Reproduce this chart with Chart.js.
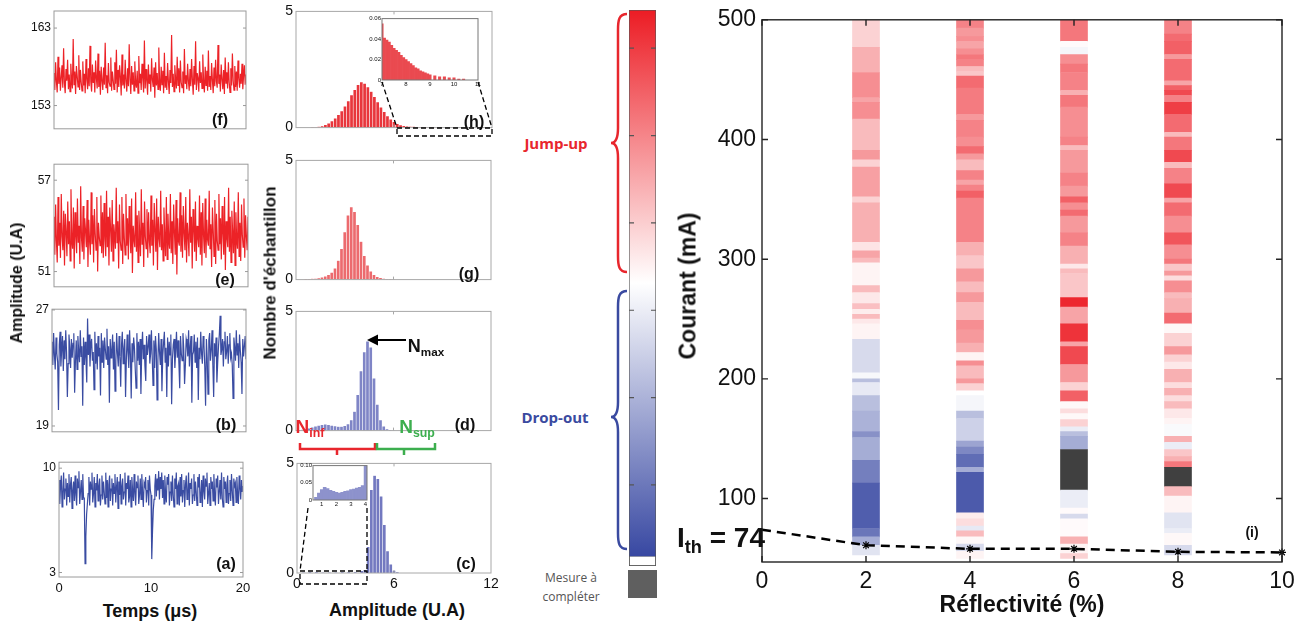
<!DOCTYPE html>
<html>
<head>
<meta charset="utf-8">
<script src="https://cdn.jsdelivr.net/npm/chart.js@4.4.1/dist/chart.umd.min.js"></script>
<style>
body { margin: 0; background: #fff; }
#fig { position: relative; width: 1309px; height: 622px; overflow: hidden; font-family: "Liberation Sans", Arial, sans-serif; }
.panel { position: absolute; }
.txt { position: absolute; transform: translate(-50%, -50%); white-space: nowrap; font-weight: bold; color: #111; line-height: 1; }
.rot { transform: translate(-50%, -50%) rotate(-90deg); }
sub { font-size: 0.65em; vertical-align: -0.35em; }
#overlay { position: absolute; left: 0; top: 0; }
</style>
</head>
<body>
<div id="fig"></div>
<script>
// ---- time traces (U.A), one sample every 1/12 us over 0..20 us ----
const sampleStep = 20 / 240;
const traceF = [157.2,155.0,158.6,156.1,154.7,159.3,155.8,157.9,154.9,156.6,158.2,155.3,160.4,155.9,154.6,157.7,156.2,158.9,155.1,157.0,
  154.8,158.4,156.3,155.2,161.6,155.7,157.4,154.5,158.1,156.8,155.4,159.5,155.0,157.6,156.0,154.9,158.7,155.6,157.1,154.6,
  159.0,156.4,155.1,157.8,155.5,160.7,156.1,154.8,158.3,155.9,157.3,154.7,158.8,156.5,155.2,159.7,155.4,157.5,154.4,158.0,
  156.2,155.0,157.9,155.7,161.1,155.3,156.9,154.6,158.5,156.0,155.5,159.2,154.9,157.4,156.3,155.1,158.6,155.8,160.2,154.7,
  157.6,155.4,158.2,156.7,154.3,159.6,155.6,157.0,155.2,158.9,156.1,154.8,157.8,155.5,160.9,156.4,154.5,158.1,155.7,157.3,
  154.9,158.7,156.0,155.3,157.5,154.6,159.4,155.9,157.1,155.0,158.4,156.6,154.7,161.4,155.2,157.7,156.2,154.4,158.3,155.8,
  157.0,154.8,159.1,156.3,155.4,157.9,154.0,158.6,155.6,157.2,155.1,160.5,156.0,154.9,158.0,155.7,157.5,154.6,159.8,155.3,
  156.8,155.0,158.5,156.1,154.5,157.6,155.9,162.1,155.4,157.1,154.8,158.2,156.4,155.2,159.3,155.6,157.8,154.7,158.8,156.0,
  155.3,157.4,154.6,160.3,155.8,156.9,155.1,158.4,156.2,154.9,157.7,155.5,159.0,156.3,154.4,158.1,155.7,161.3,155.0,157.2,
  156.5,154.8,158.7,155.9,157.3,155.2,159.6,156.0,154.7,158.0,155.6,157.5,154.9,160.1,155.4,156.8,155.0,158.5,156.3,154.6,
  157.9,155.5,158.9,156.1,155.3,160.8,155.8,157.0,154.8,158.3,156.4,155.1,157.6,154.5,159.2,155.9,157.3,155.2,158.6,156.0,
  154.7,157.8,155.6,159.7,156.2,155.0,158.1,155.4,157.4,154.9,158.8,156.5,155.3,157.1,155.8,158.4,155.1,156.9,158.2,155.7,157.0];
const traceE = [54.6,52.1,55.4,53.0,51.6,55.9,52.7,54.2,51.9,56.1,53.3,52.4,55.0,51.4,54.8,53.6,52.0,55.6,52.8,54.3,
  51.7,56.4,53.1,52.5,55.2,51.2,54.9,53.4,52.2,55.8,52.9,54.0,51.5,56.6,53.2,52.3,55.3,51.8,54.5,53.7,
  52.6,55.7,51.3,54.4,53.0,52.1,56.2,52.8,54.7,51.6,55.1,53.5,52.4,55.9,51.0,54.2,53.3,52.7,56.0,52.2,
  54.9,51.9,55.5,53.1,52.0,56.3,52.6,54.6,51.4,55.2,53.8,52.3,55.7,51.7,54.1,53.4,52.5,56.5,52.9,54.3,
  51.2,55.4,53.0,52.4,55.9,51.5,54.8,53.2,52.1,56.1,52.7,54.5,51.8,55.3,53.6,52.2,55.8,50.9,54.0,53.1,
  52.6,56.2,52.3,54.7,51.6,55.0,53.5,52.0,56.4,52.8,54.2,51.3,55.6,53.3,52.5,55.1,51.9,54.9,53.0,52.2,
  56.0,52.7,54.4,51.4,55.5,53.7,52.3,55.8,51.1,54.6,53.2,52.6,56.3,52.4,54.1,51.7,55.2,53.4,52.0,55.9,
  51.8,54.8,53.1,52.5,56.1,52.2,54.3,51.5,55.4,53.6,52.1,55.7,50.8,54.5,53.0,52.7,56.2,52.3,54.7,51.9,
  55.3,53.5,52.4,55.9,51.6,54.2,53.3,52.0,56.4,52.9,54.6,51.2,55.1,53.8,52.3,55.6,51.7,54.0,53.2,52.6,
  56.0,52.1,54.9,51.4,55.5,53.4,52.2,55.8,51.9,54.4,53.1,52.7,56.3,52.5,54.1,51.3,55.2,53.7,52.0,55.7,
  51.5,54.8,53.0,52.4,56.1,52.8,54.5,51.8,55.3,53.5,52.1,55.9,51.1,54.3,53.2,52.6,56.5,52.3,54.6,51.6,
  55.0,53.6,52.2,55.6,51.4,54.9,53.1,52.5,56.2,52.0,54.2,51.7,55.4,53.4,52.6,55.8,51.9,54.7,53.3,52.4,54.6];
const traceB = [24.8,23.2,25.4,23.9,22.9,25.1,24.0,23.4,20.1,24.6,25.5,23.1,24.3,25.2,22.8,24.9,23.6,25.6,24.1,21.0,
  23.3,25.3,24.4,23.0,25.0,23.7,24.7,25.4,21.3,23.5,24.9,22.9,25.2,24.2,23.4,25.6,23.8,24.5,20.4,25.1,
  23.2,24.8,23.6,22.0,26.4,23.9,25.3,23.1,24.6,25.0,23.5,24.1,21.5,25.5,23.3,24.7,22.9,25.2,23.8,24.4,
  21.1,25.4,23.4,24.9,23.0,25.1,24.3,23.6,25.7,23.2,24.5,20.6,25.0,23.7,24.2,25.3,22.9,24.8,21.4,23.5,
  25.4,24.0,23.1,25.2,23.8,21.7,24.6,25.5,23.3,24.3,25.0,21.0,23.6,25.3,24.1,23.0,25.6,23.9,20.9,24.7,
  23.4,25.1,24.4,22.9,21.6,25.4,23.5,24.8,23.2,25.0,21.2,24.2,25.5,23.6,24.6,23.1,22.1,25.2,23.9,24.5,
  25.3,23.3,24.0,25.6,23.7,21.8,24.9,23.0,25.2,24.3,20.8,23.5,25.4,24.1,23.2,25.0,21.4,23.8,24.7,25.5,
  23.4,24.4,21.0,25.1,23.1,24.8,23.9,25.3,20.5,23.6,24.6,25.0,23.0,24.2,25.5,23.7,24.9,23.3,21.6,25.2,
  24.0,23.5,25.4,24.3,21.9,23.2,25.0,24.7,23.8,25.6,23.1,24.5,25.2,20.6,23.9,24.1,25.3,23.4,24.8,23.0,
  25.1,20.8,24.4,23.6,25.5,24.0,23.3,25.2,24.6,23.1,20.4,25.0,23.7,21.2,24.9,25.4,23.5,24.2,25.6,23.2,
  21.0,24.7,23.8,25.1,22.0,23.4,24.5,25.3,26.6,23.9,24.3,25.0,23.1,24.8,25.5,23.6,24.1,25.2,23.3,24.6,
  25.4,23.7,24.0,23.2,20.9,25.1,24.4,23.5,25.6,23.9,24.7,23.0,25.3,24.2,23.4,21.2,25.0,23.8,24.5,25.2,23.6];
const traceA = [9.2,7.6,8.8,9.5,7.4,8.3,9.7,7.9,8.6,9.3,7.5,9.0,8.1,9.6,7.7,8.9,9.4,7.3,8.5,9.1,
  7.8,9.5,8.2,7.5,9.3,8.7,9.8,7.6,8.4,9.2,7.9,9.6,8.0,8.0,3.6,5.4,6.9,7.6,8.3,9.4,
  7.5,9.1,8.6,9.7,7.7,8.3,9.4,7.4,9.0,8.5,9.6,7.8,8.8,9.3,7.5,8.2,9.5,7.9,9.1,8.4,
  7.6,9.7,8.0,9.2,7.4,8.9,9.5,7.8,8.6,9.3,7.5,9.0,8.3,9.6,7.7,8.7,9.4,7.3,9.1,8.2,
  9.6,7.6,8.8,9.3,7.9,8.4,9.7,7.5,9.0,8.6,9.5,7.7,8.1,9.2,7.4,9.4,8.5,7.8,9.6,8.3,
  7.5,9.1,8.7,9.5,7.6,8.2,9.3,7.9,9.6,8.4,7.4,9.0,8.8,9.4,7.7,8.5,9.2,7.5,9.5,8.6,
  8.2,3.9,5.8,7.2,7.9,8.8,9.6,8.1,9.3,8.5,9.8,7.9,9.4,8.6,9.7,8.0,9.2,7.6,9.5,8.3,
  7.7,9.4,8.9,9.6,7.5,8.4,9.1,7.8,9.5,8.2,7.4,9.3,8.6,9.7,7.6,8.8,9.0,7.5,9.4,8.1,
  9.6,7.7,8.5,9.2,7.4,8.9,9.5,7.9,8.3,9.7,7.5,9.0,8.6,9.3,7.6,8.2,9.6,7.8,9.1,8.4,
  7.5,9.4,8.7,9.6,7.7,8.1,9.2,7.4,9.5,8.5,7.9,9.3,8.8,9.7,7.6,8.3,9.0,7.5,9.4,8.6,
  9.1,7.8,9.6,8.2,7.5,9.3,8.7,9.5,7.6,8.4,9.2,7.9,9.7,8.0,7.4,9.4,8.6,9.1,7.7,8.9,
  9.5,7.6,8.3,9.2,7.8,9.6,8.5,7.5,9.3,8.8,9.0,7.7,9.4,8.2,7.6,9.5,8.7,7.9,9.2,8.4,8.8];

// ---- histograms (bin centre, count) ----
const hBins = [1.0,1.2,1.4,1.6,1.8,2.0,2.2,2.4,2.6,2.8,3.0,3.2,3.4,3.6,3.8,4.0,4.2,4.4,4.6,4.8,5.0,5.2,5.4,5.6,5.8,6.0,6.2,6.4,6.6,6.8,7.0,7.2,7.4,7.6,7.8,8.0,8.4,8.8];
const hCounts = [0.01,0.02,0.04,0.07,0.12,0.19,0.28,0.4,0.55,0.72,0.92,1.15,1.4,1.63,1.84,1.96,1.9,1.75,1.55,1.33,1.1,0.88,0.68,0.5,0.36,0.25,0.17,0.11,0.08,0.06,0.05,0.04,0.03,0.03,0.02,0.02,0.01,0.01];
const gBins = [0.6,0.8,1.0,1.2,1.4,1.6,1.8,2.0,2.2,2.4,2.6,2.8,3.0,3.2,3.4,3.6,3.8,4.0,4.2,4.4,4.6,4.8,5.0,5.2,5.4,5.6,5.8,6.0];
const gCounts = [0.02,0.03,0.04,0.05,0.07,0.1,0.14,0.2,0.3,0.48,0.8,1.3,2.0,2.7,3.05,2.85,2.3,1.6,1.0,0.6,0.35,0.2,0.12,0.08,0.05,0.03,0.02,0.01];
const dBins = [0.2,0.4,0.6,0.8,1.0,1.2,1.4,1.6,1.8,2.0,2.2,2.4,2.6,2.8,3.0,3.2,3.4,3.6,3.8,4.0,4.2,4.4,4.6,4.8,5.0,5.2,5.4,5.6,5.8,6.0];
const dCounts = [0.02,0.04,0.07,0.1,0.14,0.18,0.22,0.25,0.27,0.25,0.22,0.19,0.17,0.17,0.2,0.28,0.45,0.8,1.5,2.5,3.3,3.75,3.5,2.2,1.1,0.45,0.18,0.07,0.03,0.01];
const cBins = [0.4,0.8,1.2,1.6,2.0,2.4,2.8,3.2,3.6,4.0,4.2,4.4,4.6,4.8,5.0,5.2,5.4,5.6,5.8,6.0,6.2];
const cCounts = [0.02,0.03,0.03,0.02,0.02,0.02,0.03,0.03,0.04,0.1,0.15,1.2,3.8,4.45,4.3,3.5,2.2,1.0,0.4,0.12,0.03];
const hInsetBins = [7.0,7.1,7.2,7.3,7.4,7.5,7.6,7.7,7.8,7.9,8.0,8.1,8.2,8.3,8.4,8.5,8.6,8.7,8.8,8.9,9.0,9.2,9.4,9.6,9.8,10.0,10.2,10.4];
const hInsetCounts = [0.055,0.041,0.039,0.037,0.034,0.031,0.029,0.027,0.024,0.022,0.02,0.018,0.016,0.014,0.012,0.011,0.009,0.008,0.007,0.006,0.005,0.004,0.003,0.003,0.002,0.002,0.001,0.001];
const cInsetBins = [0.6,0.8,1.0,1.2,1.4,1.6,1.8,2.0,2.2,2.4,2.6,2.8,3.0,3.2,3.4,3.6,3.8,4.0];
const cInsetCounts = [0.008,0.02,0.03,0.037,0.033,0.028,0.025,0.022,0.02,0.022,0.025,0.027,0.03,0.032,0.035,0.037,0.042,0.1];

// ---- map (i): reflectivity columns, current band edges (mA) and level (-1 drop-out .. +1 jump-up, null = to measure) ----
const reflectivities = [2, 4, 6, 8];
const r2Edges = [500,477,456,435,431,417,391,383,377,352,347,314,307,301,297,278,272,263,258,254,250,246,233,205,200,197,186,173,156,151,132,113,75,68,61,53];
const r2Levels = [0.2,0.35,0.5,0.4,0.5,0.3,0.45,0.2,0.42,0.2,0.35,0.12,0.4,0.3,0.05,0.3,0.1,0.28,0.08,0.3,0.1,0.05,-0.2,-0.04,-0.35,-0.12,-0.35,-0.42,-0.6,-0.45,-0.7,-0.88,-0.75,-0.45,-0.15];
const r4Edges = [500,493,486,482,476,471,467,461,457,453,443,421,416,402,394,388,383,374,366,362,357,351,314,303,292,281,272,264,249,241,230,222,215,211,200,196,190,186,173,167,148,143,137,126,122,88,83,77,73,68,62,56,50];
const r4Levels = [0.55,0.45,0.5,0.4,0.5,0.6,0.55,0.3,0.25,0.65,0.58,0.45,0.55,0.5,0.65,0.45,0.3,0.55,0.4,0.55,0.7,0.55,0.35,0.25,0.45,0.3,0.45,0.3,0.5,0.45,0.35,0.05,0.5,0.3,0.45,0.2,0.0,-0.05,-0.35,-0.25,-0.5,-0.65,-0.8,-0.45,-0.9,0.08,0.15,-0.12,0.3,0.03,-0.2,0.05];
const r6Edges = [500,482,477,471,463,456,441,437,427,402,395,391,372,361,352,347,341,336,322,311,296,292,288,268,260,246,231,227,212,197,190,181,175,171,166,160,156,152,141,107,92,87,83,68,62,54,50];
const r6Levels = [0.6,0.02,-0.05,0.5,0.6,0.55,0.35,0.6,0.5,0.55,0.3,0.45,0.55,0.45,0.7,0.5,0.65,0.45,0.55,0.35,0.1,0.3,0.25,0.95,0.4,0.9,0.4,0.8,0.45,0.2,0.7,0.03,0.15,0.03,0.2,-0.1,-0.35,-0.45,null,-0.1,0.02,-0.2,0.02,0.35,0.05,0.2];
const r8Edges = [500,488,482,471,467,449,445,441,437,431,421,406,402,391,381,376,363,351,347,336,322,312,300,296,290,286,282,272,267,255,246,238,227,220,214,208,197,192,186,181,175,167,162,152,147,141,135,131,126,110,102,88,75,71,61,53];
const r8Levels = [0.55,0.65,0.7,0.45,0.65,0.4,0.7,0.8,0.55,0.85,0.65,0.3,0.6,0.8,0.3,0.55,0.8,0.4,0.65,0.5,0.75,0.5,0.6,0.25,0.45,0.15,0.5,0.3,0.35,0.65,0.03,0.2,0.45,0.2,0.1,0.35,0.15,0.35,0.15,0.3,0.1,0.05,-0.03,0.35,-0.1,0.25,0.35,0.6,null,0.3,0.05,-0.15,-0.1,0.03,-0.2];
const ithRefl = [0, 2, 4, 6, 8, 10];
const ithCurrent = [74, 61, 58, 58, 55.5, 55];
const colorbarTicks = [0.86, 0.54, 0.22, -0.1, -0.42, -0.74];

const RED = [236, 28, 36], BLUE = [56, 72, 162], WHITE = [255, 255, 255];
function levelColor(v) {
  if (v === null) return '#404040';
  const end = v >= 0 ? RED : BLUE, t = Math.min(1, Math.abs(v));
  const c = WHITE.map((w, i) => Math.round(w + (end[i] - w) * t));
  return `rgb(${c[0]},${c[1]},${c[2]})`;
}

Chart.defaults.font.family = '"Liberation Sans", Arial, sans-serif';
Chart.defaults.color = '#111';
Chart.defaults.animation = false;
Chart.defaults.events = [];
Chart.defaults.plugins.legend.display = false;
Chart.defaults.plugins.tooltip.enabled = false;

// box + inward ticks, matlab style
Chart.register({
  id: 'frame',
  beforeDraw(chart, args, o) {
    if (!o.bg) return;
    const a = chart.chartArea, ctx = chart.ctx;
    ctx.save(); ctx.fillStyle = o.bg; ctx.fillRect(a.left, a.top, a.right - a.left, a.bottom - a.top); ctx.restore();
  },
  afterDatasetsDraw(chart, args, o) {
    if (!o.color) return;
    const {ctx, chartArea: a, scales} = chart;
    const len = o.len || 4;
    ctx.save();
    ctx.strokeStyle = o.color;
    ctx.lineWidth = o.width || 1;
    ctx.strokeRect(a.left, a.top, a.right - a.left, a.bottom - a.top);
    ctx.beginPath();
    (o.xTicks || []).forEach(v => {
      const px = scales.x.getPixelForValue(v);
      ctx.moveTo(px, a.bottom); ctx.lineTo(px, a.bottom - len);
      ctx.moveTo(px, a.top); ctx.lineTo(px, a.top + len);
    });
    (o.yTicks || []).forEach(v => {
      const py = scales.y.getPixelForValue(v);
      ctx.moveTo(a.left, py); ctx.lineTo(a.left + len, py);
      ctx.moveTo(a.right, py); ctx.lineTo(a.right - len, py);
    });
    ctx.stroke();
    ctx.restore();
  }
});

const fig = document.getElementById('fig');

function axis(min, max, ticks, fit, vertical, font, pad) {
  return {
    type: 'linear', min, max, offset: false,
    grid: {display: false, drawTicks: false}, border: {display: false},
    afterBuildTicks: s => { s.ticks = ticks.map(v => ({value: v})); },
    ticks: {display: ticks.length > 0, font, padding: pad, color: '#111', maxRotation: 0},
    afterFit: s => { if (vertical) s.width = fit; else s.height = fit; }
  };
}

// box = chart area [left, top, right, bottom]; pads = [top, right, xAxisHeight, yAxisWidth]
function addChart(box, pads, config) {
  const [l, t, r, b] = box, [pt, pr, xh, yw] = pads;
  const div = document.createElement('div');
  div.className = 'panel';
  div.style.left = (l - yw) + 'px';
  div.style.top = (t - pt) + 'px';
  div.style.width = (r - l + yw + pr) + 'px';
  div.style.height = (b - t + pt + xh) + 'px';
  const cv = document.createElement('canvas');
  div.appendChild(cv);
  fig.appendChild(div);
  config.options.responsive = true;
  config.options.maintainAspectRatio = false;
  config.options.layout = {padding: {top: pt, right: pr, left: 0, bottom: 0}};
  return new Chart(cv, config);
}

function tracePanel(box, pads, values, color, yMin, yMax, yTicks, xTicks) {
  addChart(box, pads, {
    type: 'line',
    data: {datasets: [{data: values.map((v, i) => ({x: i * sampleStep, y: v})), borderColor: color, borderWidth: 1.2, pointRadius: 0, tension: 0}]},
    options: {
      scales: {
        x: axis(0, 20, xTicks, pads[2], false, {size: 13}, 4),
        y: axis(yMin, yMax, yTicks, pads[3], true, {size: 12}, 3)
      },
      plugins: {frame: {color: '#9a9a9a', len: 3, yTicks}}
    }
  });
}

function histPanel(box, pads, bins, counts, color, xTicks) {
  addChart(box, pads, {
    type: 'bar',
    data: {datasets: [{data: bins.map((b, i) => ({x: b, y: counts[i]})), backgroundColor: color,
      borderColor: 'rgba(255,255,255,0.35)', borderWidth: 0.6, borderSkipped: 'start',
      barPercentage: 1, categoryPercentage: 1}]},
    options: {
      scales: {
        x: axis(0, 12, xTicks, pads[2], false, {size: 14}, 3),
        y: axis(0, 5, [0, 5], pads[3], true, {size: 14}, 3)
      },
      plugins: {frame: {color: '#a8a8a8', len: 3, xTicks: [6]}}
    }
  });
}

function insetPanel(box, pads, bins, counts, color, xMin, xMax, xTicks, yMax, yTicks) {
  addChart(box, pads, {
    type: 'bar',
    data: {datasets: [{data: bins.map((b, i) => ({x: b, y: counts[i]})), backgroundColor: color,
      barPercentage: 1, categoryPercentage: 1, borderWidth: 0}]},
    options: {
      scales: {
        x: axis(xMin, xMax, xTicks, pads[2], false, {size: 6}, 1),
        y: axis(0, yMax, yTicks, pads[3], true, {size: 6}, 1)
      },
      plugins: {frame: {color: '#777', len: 2, bg: '#fff'}}
    }
  });
}

// left column: time traces
tracePanel([54, 11, 246, 135], [11, 10, 4, 54], traceF, '#ec2227', 150, 165.2, [153, 163], []);
tracePanel([54, 162, 248, 293], [8, 10, 4, 54], traceE, '#ec2227', 50, 58.05, [51, 57], []);
tracePanel([52, 307, 246, 438], [8, 10, 4, 52], traceB, '#3a4ca2', 18.6, 27.05, [19, 27], []);
tracePanel([59, 460, 243, 577], [8, 12, 24, 59], traceA, '#3a4ca2', 2.7, 10.4, [3, 10], [0, 10, 20]);

// middle column: histograms
histPanel([296, 11, 492, 135], [11, 10, 4, 20], hBins, hCounts, '#e8363c', []);
histPanel([296, 157, 491, 287], [8, 10, 4, 20], gBins, gCounts, '#ec6a6e', []);
histPanel([296, 308, 491, 438], [8, 10, 4, 20], dBins, dCounts, '#7f85c6', []);
histPanel([297, 460, 491, 573], [8, 12, 22, 20], cBins, cCounts, '#7379c0', [0, 6, 12]);
insetPanel([382, 18, 478, 80], [4, 6, 10, 20], hInsetBins, hInsetCounts, '#ea4a50', 7, 11, [7, 8, 9, 10, 11], 0.06, [0, 0.02, 0.04, 0.06]);
insetPanel([313, 465, 367, 500], [4, 4, 8, 16], cInsetBins, cInsetCounts, '#8d92cc', 0.4, 4.1, [1, 2, 3, 4], 0.1, [0, 0.05, 0.1]);

// colour bar
addChart([629, 10, 656, 566], [0, 0, 0, 0], {
  type: 'bar',
  data: {labels: [''], datasets: [
    {data: [[-1, 1]], borderWidth: 0, backgroundColor: c => {
      const {ctx, chartArea, scales} = c.chart;
      if (!chartArea) return null;
      const g = ctx.createLinearGradient(0, scales.y.getPixelForValue(1), 0, scales.y.getPixelForValue(-1));
      [1, 0.5, 0, -0.5, -1].forEach((v, i) => g.addColorStop(i / 4, levelColor(v)));
      return g;
    }},
    {data: [[-1.037, -1]], backgroundColor: '#fff', borderColor: '#555', borderWidth: 1, borderSkipped: false}
  ]},
  options: {
    datasets: {bar: {grouped: false, barPercentage: 1, categoryPercentage: 1}},
    scales: {x: {display: false}, y: {display: false, min: -1.037, max: 1}},
    plugins: {frame: {color: '#555', len: 5, width: 1.2, yTicks: colorbarTicks}}
  }
});

// map (i)
const stripes = [[r2Edges, r2Levels], [r4Edges, r4Levels], [r6Edges, r6Levels], [r8Edges, r8Levels]];
const mapSets = stripes.map(([edges, levels], k) => ({
  type: 'bar',
  data: levels.map((lv, i) => ({x: reflectivities[k], y: [edges[i + 1], edges[i]]})),
  backgroundColor: levels.map(levelColor),
  borderWidth: 0, barThickness: 27, grouped: false
}));
mapSets.push({
  type: 'line', order: -1, clip: false,
  data: ithRefl.map((x, i) => ({x, y: ithCurrent[i]})),
  borderColor: '#000', borderWidth: 2.5, borderDash: [9, 6],
  pointStyle: 'star', pointRadius: [0, 4, 4, 4, 4, 4], pointBorderColor: '#000', pointBorderWidth: 1.2
});
addChart([762, 15, 1282, 562], [15, 27, 60, 62], {
  type: 'bar',
  data: {datasets: mapSets},
  options: {
    scales: {
      x: axis(0, 10, [0, 2, 4, 6, 8, 10], 60, false, {size: 23}, 6),
      y: axis(47, 500, [100, 200, 300, 400, 500], 62, true, {size: 23}, 6)
    },
    plugins: {frame: {color: '#222', width: 1.4, len: 6, xTicks: [0, 2, 4, 6, 8, 10], yTicks: [100, 200, 300, 400, 500]}}
  }
});

// texts
function label(html, x, y, css, cls) {
  const d = document.createElement('div');
  d.className = 'txt' + (cls ? ' ' + cls : '');
  d.innerHTML = html;
  d.style.left = x + 'px';
  d.style.top = y + 'px';
  Object.assign(d.style, css || {});
  fig.appendChild(d);
}
label('Amplitude (U.A)', 17, 283, {fontSize: '16px'}, 'rot');
label('Temps (μs)', 150, 611, {fontSize: '18px'});
label('Nombre d\'échantillon', 270, 273, {fontSize: '17px'}, 'rot');
label('Amplitude (U.A)', 397, 610, {fontSize: '18px'});
label('Courant (mA)', 688, 286, {fontSize: '23px'}, 'rot');
label('Réflectivité (%)', 1022, 604, {fontSize: '23px'});
[['(f)', 220, 120], ['(e)', 225, 280], ['(b)', 226, 425], ['(a)', 226, 564],
 ['(h)', 474, 122], ['(g)', 469, 274], ['(d)', 465, 425], ['(c)', 466, 564]].forEach(([t, x, y]) => label(t, x, y, {fontSize: '16px'}));
label('(i)', 1252, 532, {fontSize: '14px'});
label('I<sub>th</sub> = 74', 721, 540, {fontSize: '28px'});
label('N<sub>max</sub>', 426, 347, {fontSize: '18px'});
label('N<sub>inf</sub>', 310, 428, {fontSize: '19px', color: '#e8262d'});
label('N<sub>sup</sub>', 417, 428, {fontSize: '19px', color: '#3cae4e'});
label('Jump-up', 556, 143, {fontSize: '15px', color: '#e8262d', fontFamily: '"Open Sans", sans-serif'});
label('Drop-out', 555, 417, {fontSize: '15px', color: '#3a4aa0', fontFamily: '"Open Sans", sans-serif'});
label('Mesure à', 571, 578, {fontSize: '12px', fontWeight: 'normal', color: '#555', fontFamily: '"Open Sans", sans-serif'});
label('compléter', 571, 597, {fontSize: '12px', fontWeight: 'normal', color: '#555', fontFamily: '"Open Sans", sans-serif'});
const swatch = document.createElement('div');
Object.assign(swatch.style, {position: 'absolute', left: '628px', top: '570px', width: '29px', height: '28px', background: '#5f5f5f'});
fig.appendChild(swatch);

// guides, braces, brackets, arrow
fig.insertAdjacentHTML('beforeend', `
<svg id="overlay" width="1309" height="622">
  <g stroke="#000" stroke-width="1.3" stroke-dasharray="5,3" fill="none">
    <rect x="397" y="128" width="95" height="8"/>
    <line x1="382" y1="82" x2="397" y2="128"/>
    <line x1="478" y1="82" x2="492" y2="128"/>
    <rect x="300" y="571" width="67" height="13"/>
    <line x1="308" y1="508" x2="300" y2="571"/>
    <line x1="367" y1="508" x2="367" y2="571"/>
  </g>
  <line x1="406" y1="340" x2="376" y2="340" stroke="#000" stroke-width="2"/>
  <polygon points="367,340 378,334.5 378,345.5" fill="#000"/>
  <path d="M300,443 L300,449 L375,449 L375,443 M337,449 L337,455" stroke="#e8262d" stroke-width="2.5" fill="none"/>
  <path d="M377,443 L377,449 L435,449 L435,443 M404,449 L404,455" stroke="#3cae4e" stroke-width="2.5" fill="none"/>
  <path d="M627,14 C619,14 618,20 618,30 L618,128 C618,138 616,143 611,143 C616,143 618,148 618,158 L618,256 C618,266 619,272 627,272" stroke="#e8262d" stroke-width="2.5" fill="none"/>
  <path d="M627,291 C619,291 618,297 618,307 L618,402 C618,412 616,417 611,417 C616,417 618,422 618,432 L618,533 C618,543 619,549 627,549" stroke="#3a4aa0" stroke-width="2.5" fill="none"/>
</svg>`);
</script>
</body>
</html>
